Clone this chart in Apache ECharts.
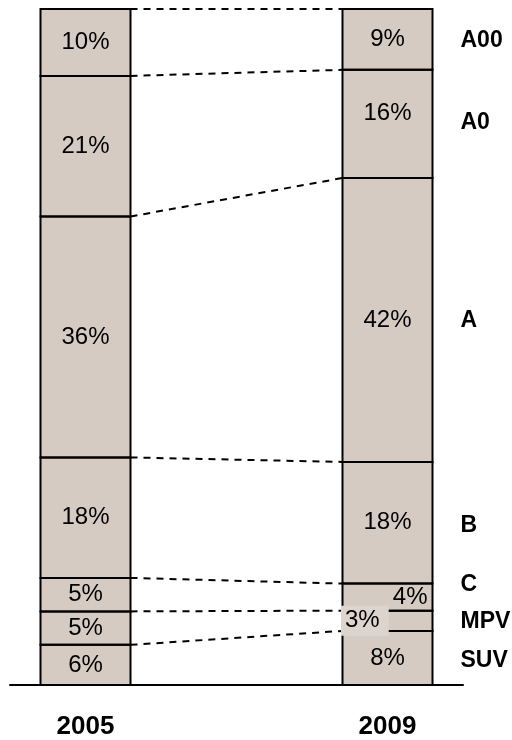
<!DOCTYPE html>
<html><head><meta charset="utf-8">
<script src="https://cdn.jsdelivr.net/npm/echarts@6/dist/echarts.min.js"></script>
<style>html,body{margin:0;padding:0;background:#fff}#c{width:512px;height:740px}</style>
</head><body><div id="c"></div>
<script>
// ---- data (bottom to top) ----
const years = ['2005', '2009'];
const segments = ['SUV', 'MPV', 'C', 'B', 'A', 'A0', 'A00'];
const share2005 = [6, 5, 5, 18, 36, 21, 10];
const share2009 = [8, 3, 4, 18, 42, 16, 9];

// ---- styles ----
const FILL = '#d5cbc2';
const FONT = '"Liberation Sans", Arial, sans-serif';
const BAR_W = 90;
const rightNudge = [3, 1, -12, 3, 1, -1, 1]; // vertical nudges of segment names

const xCats = [years[0], '', years[1]];
const yearData = [share2005, share2009];
const yearSlot = [0, 2];
function sum(a) { return a.reduce((s, v) => s + v, 0); }
function cumulative(a) { const r = [0]; a.forEach(v => r.push(r[r.length - 1] + v)); return r; }
const cumData = yearData.map(cumulative);
const cum2005 = cumData[0];
const cum2009 = cumData[1];
const MPV = segments.indexOf('MPV');

const series = [];
// filled stacked bars with their percentage labels
yearData.forEach((vals, yi) => {
  vals.forEach((v, si) => {
    const data = xCats.map((_, ci) => ci === yearSlot[yi] ? v : '-');
    const label = { show: true, position: 'inside', formatter: '{c}%', color: '#000', fontSize: 24, fontFamily: FONT };
    if (yi === 1 && segments[si] === 'A0') label.offset = [0, -11];
    if (yi === 1 && segments[si] === 'C') { label.position = 'insideRight'; label.distance = 5; }
    if (yi === 1 && si === MPV) label.show = false; // drawn on top of the outlines below
    series.push({
      type: 'bar', name: years[yi] + ' ' + segments[si], stack: 'y' + years[yi],
      yAxisIndex: yi, barWidth: BAR_W, barGap: '-100%', data: data, z: 2,
      itemStyle: { color: FILL, borderWidth: 0 },
      label: label, silent: true, emphasis: { disabled: true }
    });
  });
});

// black outlines of each segment
yearData.forEach((vals, yi) => {
  const cum = cumData[yi];
  series.push({
    type: 'custom', yAxisIndex: yi, silent: true, z: 3,
    encode: { x: 0, y: [1, 2] },
    data: vals.map((v, i) => [yearSlot[yi], cum[i], cum[i + 1]]),
    renderItem: function (params, api) {
      const lo = api.coord([api.value(0), api.value(1)]);
      const hi = api.coord([api.value(0), api.value(2)]);
      return {
        type: 'rect',
        shape: { x: lo[0] - BAR_W / 2, y: hi[1], width: BAR_W, height: lo[1] - hi[1] },
        style: { fill: 'none', stroke: '#000', lineWidth: 2 }
      };
    }
  });
});

// 2009 MPV label with a light box over the left part of the segment
series.push({
  type: 'custom', yAxisIndex: 1, silent: true, z: 4,
  encode: { x: 0, y: [1, 2] },
  data: [[2, cum2009[MPV], cum2009[MPV + 1], share2009[MPV]]],
  renderItem: function (params, api) {
    const p = api.coord([2, (api.value(1) + api.value(2)) / 2]);
    return {
      type: 'text', x: p[0] - BAR_W / 2 - 1.5, y: p[1],
      style: { text: api.value(3) + '%', font: '24px ' + FONT, fill: '#000', align: 'left', verticalAlign: 'middle',
        backgroundColor: '#ddd5cd', padding: [3, 9, 3, 4] }
    };
  }
});

// segment names at the right of the 2009 bar
series.push({
  type: 'custom', yAxisIndex: 1, silent: true, z: 4,
  encode: { x: 0, y: [1, 2] },
  data: segments.map((s, i) => [2, cum2009[i], cum2009[i + 1], i]),
  renderItem: function (params, api) {
    const i = api.value(3);
    const p = api.coord([2, (api.value(1) + api.value(2)) / 2]);
    return {
      type: 'text', x: p[0] + BAR_W / 2 + 28, y: p[1] + rightNudge[i],
      style: { text: segments[i], font: 'bold 23px ' + FONT, fill: '#000', verticalAlign: 'middle', align: 'left' }
    };
  }
});

const chart = echarts.init(document.getElementById('c'));
chart.setOption({
  animation: false,
  backgroundColor: '#fff',
  grid: { left: 10, width: 453, top: 9, bottom: 52 },
  xAxis: {
    type: 'category', data: xCats,
    axisLine: { lineStyle: { color: '#000', width: 2 } },
    axisTick: { show: false },
    axisLabel: { color: '#000', fontSize: 26, fontWeight: 'bold', fontFamily: FONT, margin: 29 }
  },
  yAxis: [
    { type: 'value', min: 0, max: sum(share2005), show: false },
    { type: 'value', min: 0, max: sum(share2009), show: false }
  ],
  series: series
});

// dashed connectors between matching boundaries of the two bars
const lines = [];
for (let k = 1; k <= segments.length; k++) {
  const a = chart.convertToPixel({ xAxisIndex: 0, yAxisIndex: 0 }, [years[0], cum2005[k]]);
  const b = chart.convertToPixel({ xAxisIndex: 0, yAxisIndex: 1 }, [years[1], cum2009[k]]);
  lines.push({
    type: 'line', silent: true, z: 1,
    shape: { x1: a[0] + BAR_W / 2, y1: a[1], x2: b[0] - BAR_W / 2, y2: b[1] },
    style: { stroke: '#000', lineWidth: 2, lineDash: [7, 6] }
  });
}
chart.setOption({ graphic: lines });
</script>
</body></html>
